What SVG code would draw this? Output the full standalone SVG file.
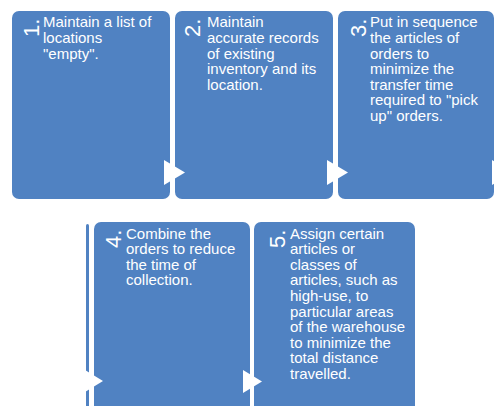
<svg xmlns="http://www.w3.org/2000/svg" width="496" height="406" viewBox="0 0 496 406">
<style>
.box{fill:#5082C2;}
.t{font-family:"Liberation Sans",Arial,sans-serif;font-size:15px;fill:#ffffff;}
.n{font-family:"Liberation Sans",Arial,sans-serif;font-size:22px;fill:#ffffff;}
.arr{fill:#ffffff;}
</style>
<rect width="496" height="406" fill="#ffffff"/>
<g id="node1">
<rect class="box" x="12" y="11" width="158" height="188" rx="7"/>
<text class="n" transform="translate(39,37) rotate(-90)">1.</text>
<text class="t" x="43" y="27.3"><tspan x="43">Maintain a list of</tspan><tspan x="43" dy="15.6">locations</tspan><tspan x="43" dy="15.6">"empty".</tspan></text>
</g>
<g id="node2">
<rect class="box" x="175" y="11" width="158" height="188" rx="7"/>
<text class="n" transform="translate(200,37) rotate(-90)">2.</text>
<text class="t" x="207" y="27.3"><tspan x="207">Maintain</tspan><tspan x="207" dy="15.6">accurate records</tspan><tspan x="207" dy="15.6">of existing</tspan><tspan x="207" dy="15.6">inventory and its</tspan><tspan x="207" dy="15.6">location.</tspan></text>
</g>
<g id="node3">
<rect class="box" x="338" y="11" width="156" height="188" rx="7"/>
<text class="n" transform="translate(366,37) rotate(-90)">3.</text>
<text class="t" x="370" y="27.3"><tspan x="370">Put in sequence</tspan><tspan x="370" dy="15.6">the articles of</tspan><tspan x="370" dy="15.6">orders to</tspan><tspan x="370" dy="15.6">minimize the</tspan><tspan x="370" dy="15.6">transfer time</tspan><tspan x="370" dy="15.6">required to "pick</tspan><tspan x="370" dy="15.6">up" orders.</tspan></text>
</g>
<g id="node4">
<rect class="box" x="94" y="222" width="156" height="200" rx="7"/>
<text class="n" transform="translate(121,248) rotate(-90)">4.</text>
<text class="t" x="126" y="238.5"><tspan x="126">Combine the</tspan><tspan x="126" dy="15.6">orders to reduce</tspan><tspan x="126" dy="15.6">the time of</tspan><tspan x="126" dy="15.6">collection.</tspan></text>
</g>
<g id="node5">
<rect class="box" x="254" y="222" width="161" height="200" rx="7"/>
<text class="n" transform="translate(285,248) rotate(-90)">5.</text>
<text class="t" x="290" y="238.5"><tspan x="290">Assign certain</tspan><tspan x="290" dy="15.6">articles or</tspan><tspan x="290" dy="15.6">classes of</tspan><tspan x="290" dy="15.6">articles, such as</tspan><tspan x="290" dy="15.6">high-use, to</tspan><tspan x="290" dy="15.6">particular areas</tspan><tspan x="290" dy="15.6">of the warehouse</tspan><tspan x="290" dy="15.6">to minimize the</tspan><tspan x="290" dy="15.6">total distance</tspan><tspan x="290" dy="15.6">travelled.</tspan></text>
</g>
<g id="connectors">
<rect class="box" x="86" y="224" width="3" height="190" rx="1.5"/>
<polygon class="arr" points="164,160 185,172.5 164,185"/>
<polygon class="arr" points="327,160 348,172.5 327,185"/>
<polygon class="arr" points="492,160 513,172.5 492,185"/>
<polygon class="arr" points="85,370 103,381 85,392"/>
<polygon class="arr" points="243,370 262,381.5 243,393"/>
</g>
</svg>
